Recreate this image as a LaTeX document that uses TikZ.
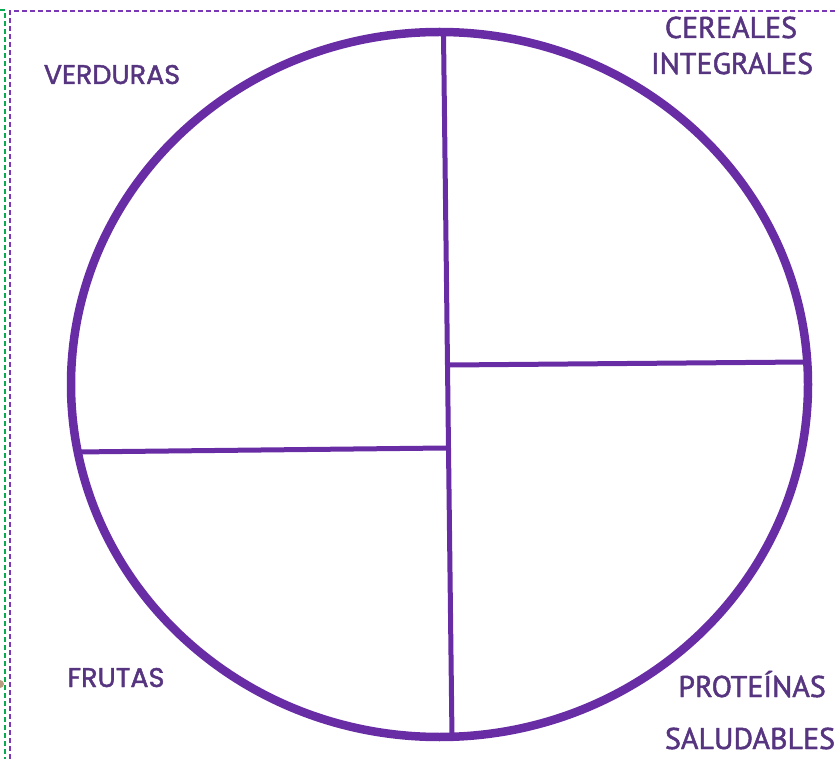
\documentclass[tikz,border=0pt]{standalone}
\usepackage{fontspec}
\usepackage{tikz}
\usetikzlibrary{calc}
\newfontfamily\roundfont[FakeBold=1.6]{Poppins}
\newfontfamily\comicfont[FakeBold=1.6]{PT Sans}
\definecolor{PlatePurple}{RGB}{104,44,164}
\definecolor{TextPurple} {RGB}{86,52,128}
\definecolor{FramePurple}{RGB}{122,56,182}
\definecolor{FrameGreen} {RGB}{10,170,80}

\begin{document}
\begin{tikzpicture}[x=1pt,y=-1pt,
    lbl/.style={font=#1,TextPurple,anchor=base,inner sep=0pt},
    divider/.style={draw=PlatePurple,line width=5pt}]
        \useasboundingbox (0,0) rectangle (836,759);
        % frame lines
        \draw[FrameGreen,line width=2pt,dash pattern=on 5pt off 3pt] (0,10) -- (5,10) -- (5,759);
        \draw[FramePurple,line width=2pt,dash pattern=on 5pt off 3pt] (10,759) -- (10,11) -- (836,11);
        \fill[brown!70!black,opacity=0.6] (0,684) circle (4);
        % plate
        \coordinate (centre) at (439.5,384.5);
        \draw[PlatePurple,line width=8.5pt] (centre) ellipse [x radius=368.5,y radius=352.5];
        \coordinate (top)    at (443.5,34);
        \coordinate (bottom) at (452,738);
        \coordinate (midR)   at (449.5,365);
        \coordinate (rimR)   at (805,362);
        \coordinate (midL)   at (446,448);
        \coordinate (rimL)   at (76,452);
        \draw[divider] (top) -- (bottom);
        \draw[divider] (midR) -- (rimR);
        \draw[divider] (midL) -- (rimL);
        % labels
        \node[lbl={\roundfont\fontsize{27}{27}\selectfont}] (verduras) at (112,84) {VERDURAS};
        \node[lbl={\roundfont\fontsize{27}{27}\selectfont}] (frutas) at (116,687) {FRUTAS};
        \node[lbl={\comicfont\fontsize{30}{30}\selectfont}] (cereales) at (731,38) {CEREALES};
        \node[lbl={\comicfont\fontsize{30}{30}\selectfont}] (integrales) at (732,74) {INTEGRALES};
        \node[lbl={\comicfont\fontsize{30}{30}\selectfont}] (proteinas) at (752,697) {PROTEÍNAS};
        \node[lbl={\comicfont\fontsize{30}{30}\selectfont}] (saludables) at (750,749) {SALUDABLES};
      \end{tikzpicture}
\end{document}
